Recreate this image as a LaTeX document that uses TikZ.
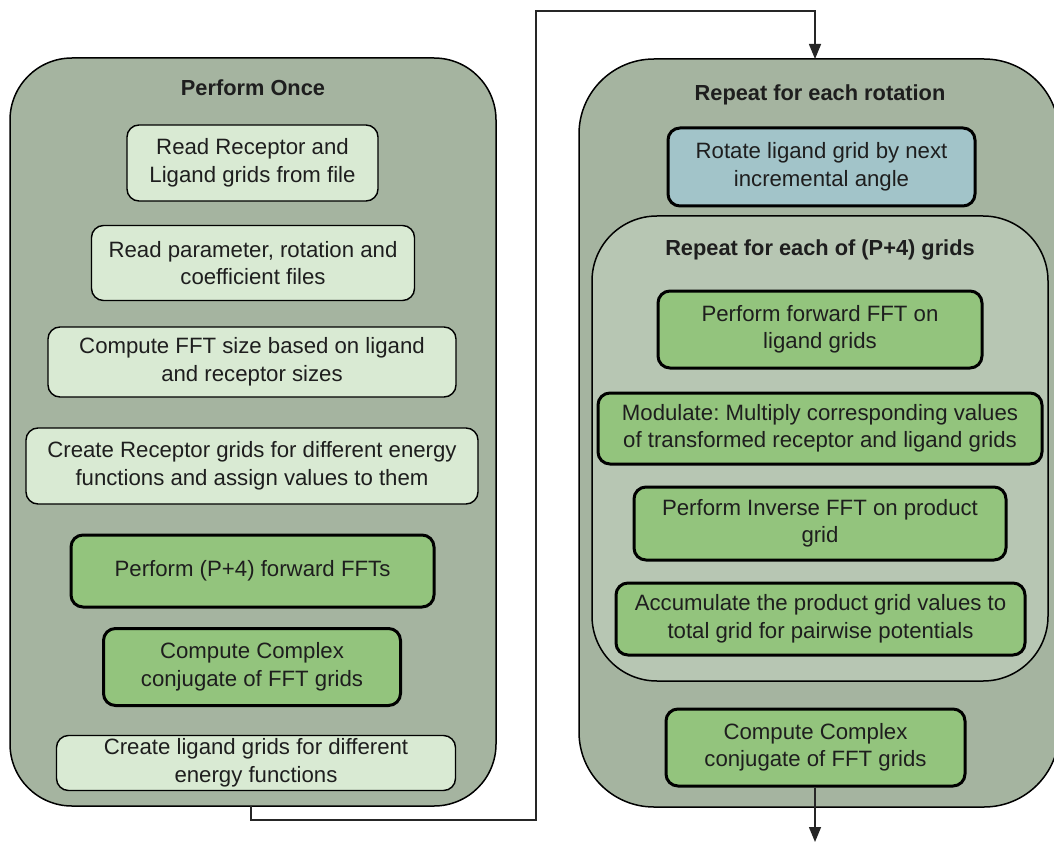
\documentclass[tikz,border=0pt]{standalone}
\usepackage{fontspec}
\setmainfont{Liberation Sans}
\usetikzlibrary{arrows.meta}
\definecolor{outerfill}{HTML}{A5B4A0}
\definecolor{innerfill}{HTML}{B7C6B3}
\definecolor{lightfill}{HTML}{D9EAD3}
\definecolor{greenfill}{HTML}{93C47D}
\definecolor{bluefill}{HTML}{A2C4C9}
\definecolor{txt}{HTML}{1E1E1E}
\frenchspacing
\begin{document}
\begin{tikzpicture}[x=1pt,y=-1pt,
  sz/.style 2 args={minimum width=#1pt, minimum height=#2pt},
  box/.style={draw=black, rounded corners=12pt, align=center, inner sep=0pt,
    font=\fontsize{22.2}{27.5}\selectfont, text=txt},
  lightbox/.style={box, fill=lightfill, line width=1.4pt},
  greenbox/.style={box, fill=greenfill, line width=3pt},
  bluebox/.style={box, fill=bluefill, line width=3pt},
  bigbox/.style={draw=black, fill=outerfill, line width=1.5pt, inner sep=0pt},
  innerbox/.style={draw=black, fill=innerfill, line width=1.5pt, inner sep=0pt, rounded corners=65pt},
  title/.style={font=\bfseries\fontsize{21.8}{27}\selectfont, text=txt, inner sep=0pt},
  conn/.style={draw=black!85, line width=1.5pt},
  arr/.style={conn, -{Triangle[length=15pt,width=12pt]}}]
\useasboundingbox (0,0) rectangle (1054,842);
\fill[white] (0,0) rectangle (1054,842);

% left block
\node[bigbox, rounded corners=62pt, sz={486}{748}] (Lbig) at (253,432) {};
\node[title] (Ltitle) at (253,88) {Perform Once};
\node[lightbox, sz={251}{76}] (L1) at (252.5,163) {Read Receptor and\\Ligand grids from file};
\node[lightbox, sz={323}{75}] (L2) at (253,263) {Read parameter, rotation and\\coefficient files};
\node[lightbox, sz={408}{70}] (L3) at (252,362) {Compute FFT size based on ligand\\and receptor sizes};
\node[lightbox, sz={452}{76}] (L4) at (252,466) {Create Receptor grids for different energy\\functions and assign values to them};
\node[greenbox, sz={363}{72}] (L5) at (252.5,571) {Perform (P+4) forward FFTs};
\node[greenbox, sz={297}{77}] (L6) at (252,667) {Compute Complex\\conjugate of FFT grids};
\node[lightbox, sz={399}{55}] (L7) at (256,763) {Create ligand grids for different\\energy functions};

% right block
\node[bigbox, rounded corners=75pt, sz={480}{748}] (Rbig) at (819,433) {};
\node[title] (Rtitle) at (820,95) {Repeat for each rotation};
\node[bluebox, sz={307}{78}] (R1) at (821.5,167) {Rotate ligand grid by next\\incremental angle};
\node[innerbox, sz={456}{465}] (Rin) at (820,448.5) {};
\node[title] (Rintitle) at (820,250) {Repeat for each of (P+4) grids};
\node[greenbox, sz={324}{77}] (G1) at (820,329.5) {Perform forward FFT on\\ligand grids};
\node[greenbox, sz={444}{71}] (G2) at (820,428.5) {Modulate: Multiply corresponding values\\of transformed receptor and ligand grids};
\node[greenbox, sz={372}{73}] (G3) at (820,523.5) {Perform Inverse FFT on product\\grid};
\node[greenbox, sz={409}{72}] (G4) at (820.5,619) {Accumulate the product grid values to\\total grid for pairwise potentials};
\node[greenbox, sz={299}{77}] (G5) at (815.5,747.5) {Compute Complex\\conjugate of FFT grids};

% connectors
\coordinate (cA) at (251,806);
\coordinate (cB) at (536,820);
\coordinate (cC) at (536,11);
\coordinate (cD) at (815,59);
\coordinate (cOut) at (815,842);
\draw[arr] (cA) |- (cB) -- (cC) -| (cD);
\draw[arr] (G5.south -| cOut) -- (cOut);
\end{tikzpicture}
\end{document}
